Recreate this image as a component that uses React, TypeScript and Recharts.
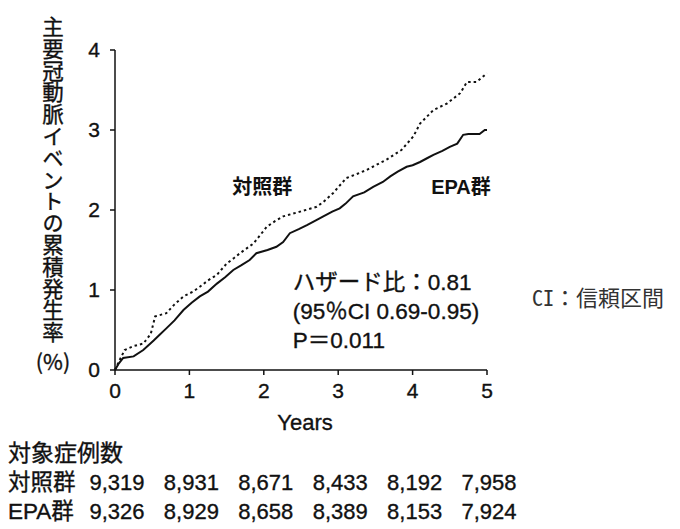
import React from "react";
import { LineChart, Line, XAxis, YAxis, ReferenceDot, Label } from "recharts";

const yearTicks = [0, 1, 2, 3, 4, 5];
const rateTicks = [0, 1, 2, 3, 4];

// 対照群 (dotted line)
const controlYears = [0, 0.05, 0.13, 0.25, 0.38, 0.48, 0.54, 0.69, 0.8, 0.92, 1.05, 1.14, 1.25, 1.37, 1.5, 1.6, 1.68, 1.86, 2.04, 2.15, 2.26, 2.49, 2.71, 2.8, 2.93, 3.11, 3.25, 3.38, 3.65, 3.85, 4.01, 4.1, 4.28, 4.46, 4.64, 4.73, 4.86, 5.0];
const controlRates = [0, 0.1, 0.25, 0.3, 0.33, 0.45, 0.67, 0.71, 0.82, 0.92, 0.98, 1.04, 1.12, 1.19, 1.33, 1.4, 1.46, 1.58, 1.79, 1.86, 1.92, 1.98, 2.04, 2.1, 2.21, 2.4, 2.45, 2.5, 2.63, 2.75, 2.92, 3.08, 3.25, 3.33, 3.46, 3.6, 3.6, 3.71];

// EPA群 (solid line)
const epaYears = [0, 0.05, 0.11, 0.25, 0.38, 0.52, 0.6, 0.69, 0.8, 0.92, 1.03, 1.14, 1.25, 1.37, 1.48, 1.59, 1.7, 1.81, 1.9, 2.05, 2.17, 2.26, 2.35, 2.47, 2.58, 2.7, 2.8, 2.92, 3.02, 3.1, 3.2, 3.35, 3.47, 3.6, 3.7, 3.8, 3.92, 4.0, 4.1, 4.2, 4.28, 4.4, 4.5, 4.6, 4.68, 4.75, 4.9, 4.97, 5.0];
const epaRates = [0, 0.08, 0.15, 0.17, 0.25, 0.37, 0.44, 0.52, 0.62, 0.75, 0.84, 0.92, 0.98, 1.08, 1.16, 1.25, 1.31, 1.375, 1.46, 1.5, 1.54, 1.6, 1.71, 1.76, 1.81, 1.87, 1.92, 1.98, 2.02, 2.08, 2.17, 2.22, 2.29, 2.35, 2.42, 2.48, 2.54, 2.56, 2.6, 2.65, 2.69, 2.74, 2.79, 2.83, 2.94, 2.95, 2.95, 3.0, 3.0];

// 対象症例数
const controlCounts = ["9,319", "8,931", "8,671", "8,433", "8,192", "7,958"];
const epaCounts = ["9,326", "8,929", "8,658", "8,389", "8,153", "7,924"];

const yTitle = "主要冠動脈イベントの累積発生率";
const yUnit = "(%)";
const statLines = ["ハザード比：0.81", "(95％CI 0.69-0.95)", "P＝0.011"];

const controlData = controlYears.map((t, i) => ({ t, v: controlRates[i] }));
const epaData = epaYears.map((t, i) => ({ t, v: epaRates[i] }));

const SANS = '"Liberation Sans", Arial, "Noto Sans CJK JP", sans-serif';
const CJK = '"Noto Sans CJK JP", sans-serif';
const INK = "#111";
// scanned print looks a touch heavier than regular weight
const heavy = { stroke: INK, strokeWidth: 0.35 };

const tickStyle = { fontSize: 21, fill: INK, fontFamily: SANS, ...heavy };

// year tick plus the two case-count rows under it
const YearTick = (props: any) => {
  const { x, y, payload, index } = props;
  const i = yearTicks.indexOf(payload.value);
  return (
    <g key={index} fontFamily={SANS} fill={INK} {...heavy}>
      <text x={x} y={y} dy="0.71em" textAnchor="middle" fontSize={21}>
        {payload.value}
      </text>
      <text x={x + 2} y={y + 99} textAnchor="middle" dominantBaseline="central" fontSize={22}>
        {controlCounts[i]}
      </text>
      <text x={x + 2} y={y + 128} textAnchor="middle" dominantBaseline="central" fontSize={22}>
        {epaCounts[i]}
      </text>
    </g>
  );
};

const XTitle = (props: any) => {
  const vb = props.viewBox;
  return (
    <g fontFamily={SANS} fill={INK} {...heavy}>
      <text x={vb.x + vb.width / 2 + 4} y={vb.y + 60} textAnchor="middle" fontSize={22}>
        Years
      </text>
      <text x={8} y={vb.y + 83} dominantBaseline="central" fontSize={23}>
        対象症例数
      </text>
      <text x={8} y={vb.y + 112} dominantBaseline="central" fontSize={22.5}>
        対照群
      </text>
      <text x={8} y={vb.y + 141} dominantBaseline="central" fontSize={22.5}>
        EPA群
      </text>
    </g>
  );
};

const YTitle = (props: any) => {
  const vb = props.viewBox;
  const cx = 53;
  const top = vb.y - 34;
  return (
    <g fontSize={21.5} fontFamily={CJK} fill={INK} {...heavy}>
      <text x={cx} y={top} style={{ writingMode: "vertical-rl" }} letterSpacing={0.3}>
        {yTitle}
      </text>
      <text x={cx} y={top + yTitle.length * 21.8 + 17} textAnchor="middle" dominantBaseline="central">
        {yUnit}
      </text>
    </g>
  );
};

const groupTag = (text: string) => (props: any) => {
  const vb = props.viewBox;
  return (
    <text x={vb.x} y={vb.y} textAnchor="middle" dominantBaseline="central" fontSize={20} fontWeight="bold" fontFamily={SANS} fill={INK}>
      {text}
    </text>
  );
};

const StatNote = (props: any) => {
  const vb = props.viewBox;
  return (
    <g fontSize={22.5} fontFamily={SANS} fill={INK} {...heavy}>
      {statLines.map((s, i) => (
        <text key={i} x={vb.x} y={vb.y + i * 29} dominantBaseline="central">
          {s}
        </text>
      ))}
    </g>
  );
};

const CiNote = (props: any) => {
  const vb = props.viewBox;
  return (
    <text x={vb.x + 45} y={vb.y} dominantBaseline="central" fontSize={22} fontFamily={'"Noto Sans Mono CJK JP", "DejaVu Sans Mono", monospace'} fill="#333">
      CI：信頼区間
    </text>
  );
};

export default function App() {
  return (
    <div style={{ position: "absolute", left: 0, top: 0 }}>
      <LineChart width={680} height={529} margin={{ top: 50, right: 193, bottom: 10, left: 0 }}>
        <XAxis
          type="number"
          dataKey="t"
          domain={[0, 5]}
          ticks={yearTicks}
          interval={0}
          height={149}
          tickSize={5}
          tickMargin={8}
          axisLine={{ stroke: INK, strokeWidth: 1.5 }}
          tickLine={{ stroke: INK, strokeWidth: 1.5 }}
          tick={<YearTick />}
        >
          <Label content={XTitle} />
        </XAxis>
        <YAxis
          type="number"
          domain={[0, 4]}
          ticks={rateTicks}
          interval={0}
          width={115}
          tickSize={5}
          tickMargin={10}
          axisLine={{ stroke: INK, strokeWidth: 1.5 }}
          tickLine={{ stroke: INK, strokeWidth: 1.5 }}
          tick={tickStyle}
        >
          <Label content={YTitle} />
        </YAxis>
        <Line data={controlData} dataKey="v" type="linear" stroke={INK} strokeWidth={2} strokeDasharray="2.5 3" dot={false} activeDot={false} isAnimationActive={false} />
        <Line data={epaData} dataKey="v" type="linear" stroke={INK} strokeWidth={2} dot={false} activeDot={false} isAnimationActive={false} />
        <ReferenceDot x={1.98} y={2.29} r={0} label={{ content: groupTag("対照群") }} />
        <ReferenceDot x={4.65} y={2.29} r={0} label={{ content: groupTag("EPA群") }} />
        <ReferenceDot x={2.39} y={1.09} r={0} label={{ content: StatNote }} />
        <ReferenceDot x={5} y={0.93} r={0} label={{ content: CiNote }} />
      </LineChart>
    </div>
  );
}
